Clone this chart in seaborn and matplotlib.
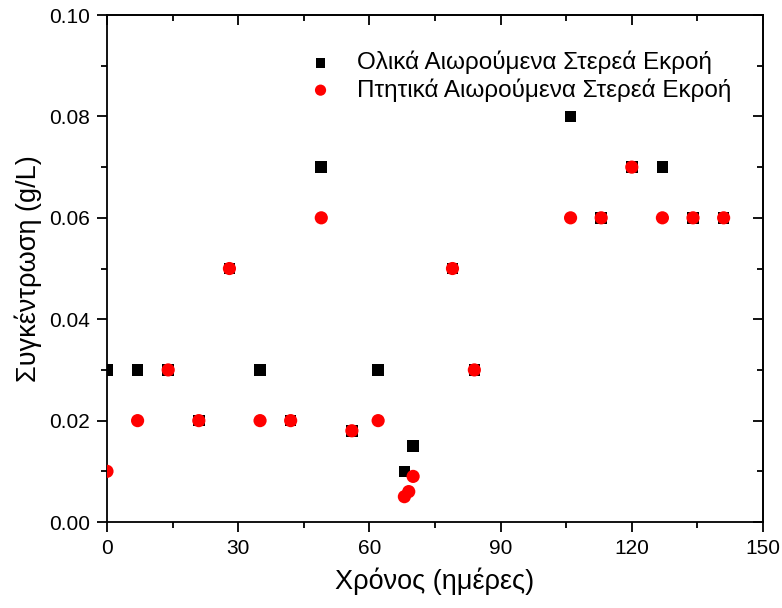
import matplotlib
matplotlib.use("Agg")
import matplotlib.pyplot as plt
import seaborn as sns
import pandas as pd
from matplotlib.ticker import MultipleLocator, FormatStrFormatter

tss_days = [0, 7, 14, 21, 28, 35, 42, 49, 56, 62, 68, 70, 79, 84, 106, 113, 120, 127, 134, 141]
tss_vals = [0.03, 0.03, 0.03, 0.02, 0.05, 0.03, 0.02, 0.07, 0.018, 0.03, 0.01, 0.015, 0.05, 0.03,
            0.08, 0.06, 0.07, 0.07, 0.06, 0.06]
vss_days = [0, 7, 14, 21, 28, 35, 42, 49, 56, 62, 68, 69, 70, 79, 84, 106, 113, 120, 127, 134, 141]
vss_vals = [0.01, 0.02, 0.03, 0.02, 0.05, 0.02, 0.02, 0.06, 0.018, 0.02, 0.005, 0.006, 0.009, 0.05,
            0.03, 0.06, 0.06, 0.07, 0.06, 0.06, 0.06]
label_tss = "Ολικά Αιωρούμενα Στερεά Εκροή"
label_vss = "Πτητικά Αιωρούμενα Στερεά Εκροή"

sns.set_theme(style="ticks")
plt.rcParams['font.family'] = ['Liberation Sans', 'DejaVu Sans']
plt.rcParams['text.color'] = 'black'
plt.rcParams['axes.labelcolor'] = 'black'
plt.rcParams['xtick.color'] = 'black'
plt.rcParams['ytick.color'] = 'black'

df_t = pd.DataFrame({"x": tss_days, "y": tss_vals})
df_v = pd.DataFrame({"x": vss_days, "y": vss_vals})

fig = plt.figure(figsize=(7.82, 6.08), dpi=100)
ax = fig.add_axes([0.1368, 0.1414, 0.8389, 0.8339])

sns.scatterplot(data=df_t, x="x", y="y", marker="s", s=70, color="black",
                edgecolor="none", ax=ax, label=label_tss, zorder=2)
sns.scatterplot(data=df_v, x="x", y="y", marker="o", s=90, color="red",
                edgecolor="none", ax=ax, label=label_vss, zorder=3)

ax.set_xlim(0, 150)
ax.set_ylim(0, 0.10)
ax.xaxis.set_major_locator(MultipleLocator(30))
ax.xaxis.set_minor_locator(MultipleLocator(15))
ax.yaxis.set_major_locator(MultipleLocator(0.02))
ax.yaxis.set_minor_locator(MultipleLocator(0.01))
ax.yaxis.set_major_formatter(FormatStrFormatter('%.2f'))

for sp in ax.spines.values():
    sp.set_visible(True)
    sp.set_color('black')
    sp.set_linewidth(1.3)

ax.tick_params(which='major', direction='out', length=7, width=1.3, labelsize=15, pad=5,
               top=False, right=False)
ax.tick_params(which='minor', direction='out', length=4, width=1.3, top=False, right=False)

sec_x = ax.secondary_xaxis('top')
sec_x.xaxis.set_major_locator(MultipleLocator(30))
sec_x.xaxis.set_minor_locator(MultipleLocator(15))
sec_x.tick_params(which='major', direction='in', length=7, width=1.3, labeltop=False)
sec_x.tick_params(which='minor', direction='in', length=4, width=1.3)
sec_x.spines['top'].set_linewidth(1.3)
sec_y = ax.secondary_yaxis('right')
sec_y.yaxis.set_major_locator(MultipleLocator(0.02))
sec_y.yaxis.set_minor_locator(MultipleLocator(0.01))
sec_y.tick_params(which='major', direction='in', length=7, width=1.3, labelright=False)
sec_y.tick_params(which='minor', direction='in', length=4, width=1.3)
sec_y.spines['right'].set_linewidth(1.3)

ax.set_xlabel("Χρόνος (ημέρες)", fontsize=19.5, labelpad=7)
ax.set_ylabel("Συγκέντρωση (g/L)", fontsize=19.5, labelpad=5)

leg = ax.legend(loc='upper right', bbox_to_anchor=(0.974, 0.958), frameon=False, fontsize=17.5,
                handletextpad=0.5, labelspacing=0.15, markerscale=0.85, borderaxespad=0.2)

ax.grid(False)
fig.savefig("out.png", dpi=100)
